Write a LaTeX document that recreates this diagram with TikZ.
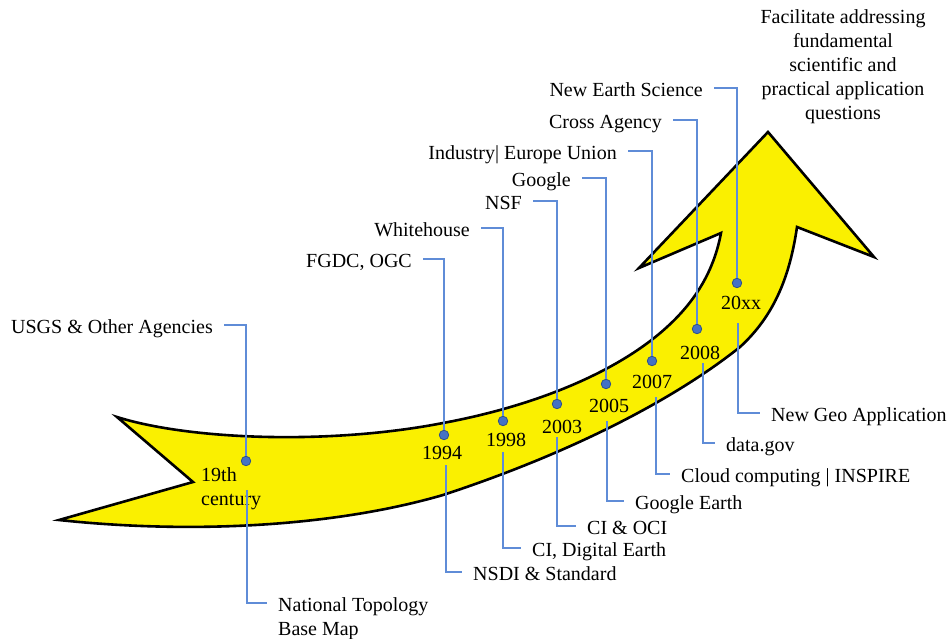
\documentclass[tikz,border=0pt]{standalone}
\usepackage{fontspec}
\setmainfont{Liberation Serif}
\definecolor{arrowyellow}{RGB}{250,240,0}
\definecolor{lineblue}{RGB}{95,140,215}
\definecolor{dotblue}{RGB}{68,114,196}
\definecolor{dotedge}{RGB}{45,80,140}
\begin{document}
\begin{tikzpicture}[x=1pt,y=-1pt,
  every node/.style={font=\fontsize{20}{24}\selectfont, text=black},
  dot/.style={circle, fill=dotblue, draw=dotedge, line width=0.8pt, minimum size=9.5pt, inner sep=0pt},
  conn/.style={draw=lineblue, line width=1.2pt},
  toplab/.style={anchor=mid east, inner xsep=11pt, inner ysep=0pt, yshift=-6pt},
  botlab/.style={anchor=mid west, inner xsep=11pt, inner ysep=0pt, yshift=-6pt},
  year/.style={anchor=base, inner sep=0pt},
  bigarrow/.style={fill=arrowyellow, draw=black, line width=2.6pt, line join=miter}
]
\useasboundingbox (0,0) rectangle (948,638);

% the yellow arrow
\path[bigarrow]
 (117,417) .. controls (190,440) and (330,445) .. (443,423)
 .. controls (540,405) and (620,370) .. (667,327)
 .. controls (700,297) and (715,265) .. (721,233)
 -- (639,268) -- (768,132) -- (874,257) -- (797,227)
 .. controls (790,275) and (775,315) .. (740,347)
 .. controls (680,395) and (580,450) .. (443,495)
 .. controls (340,525) and (200,535) .. (59,520)
 -- (193,482) -- cycle;

% year labels
\node[year, anchor=base west, align=left] (y19) at (201,505) {19th\\century};
\node[year] (y1994) at (442,459) {1994};
\node[year] (y1998) at (506,446) {1998};
\node[year] (y2003) at (562,433) {2003};
\node[year] (y2005) at (609,412) {2005};
\node[year] (y2007) at (652,388) {2007};
\node[year] (y2008) at (700,359) {2008};
\node[year] (y20xx) at (741,309) {20xx};

% top labels
\node[toplab] (usgs) at (224,325) {USGS \& Other Agencies};
\node[toplab] (fgdc) at (423,259) {FGDC, OGC};
\node[toplab] (white) at (481,228) {Whitehouse};
\node[toplab] (nsf) at (533,201) {NSF};
\node[toplab] (google) at (582,178) {Google};
\node[toplab] (industry) at (628,151) {Industry| Europe Union};
\node[toplab] (cross) at (673,120) {Cross Agency};
\node[toplab] (newearth) at (714,88) {New Earth Science};

% bottom labels
\node[botlab] (ntbm) at (267,603) {\vtop{\hbox{National Topology}\hbox{Base Map}}};
\node[botlab] (nsdi) at (462,572) {NSDI \& Standard};
\node[botlab] (cidig) at (521,548) {CI, Digital Earth};
\node[botlab] (cioci) at (576,526) {CI \& OCI};
\node[botlab] (gearth) at (624,501) {Google Earth};
\node[botlab] (cloud) at (670,474) {Cloud computing | INSPIRE};
\node[botlab] (datagov) at (715,443) {data.gov};
\node[botlab] (newgeo) at (760,413) {New Geo Application};

% goal text
\node[anchor=base, align=center, inner sep=0pt] (goal) at (843,119)
 {Facilitate addressing\\fundamental\\scientific and\\practical application\\questions};

% dots
\node[dot] (d19) at (246,461) {};
\node[dot] (d1994) at (444,435) {};
\node[dot] (d1998) at (503,421) {};
\node[dot] (d2003) at (557,404) {};
\node[dot] (d2005) at (606,384) {};
\node[dot] (d2007) at (652,361) {};
\node[dot] (d2008) at (697,329) {};
\node[dot] (d20xx) at (737,283) {};

% lower connector starts
\coordinate (s19) at (247,490);
\coordinate (s1994) at (446,465);
\coordinate (s1998) at (503,452);
\coordinate (s2003) at (557,437);
\coordinate (s2005) at (607,421);
\coordinate (s2007) at (656,397);
\coordinate (s2008) at (703,363);
\coordinate (s20xx) at (738,323);

% upper connectors
\draw[conn] ([yshift=6pt]usgs.mid east) -| (d19);
\draw[conn] ([yshift=6pt]fgdc.mid east) -| (d1994);
\draw[conn] ([yshift=6pt]white.mid east) -| (d1998);
\draw[conn] ([yshift=6pt]nsf.mid east) -| (d2003);
\draw[conn] ([yshift=6pt]google.mid east) -| (d2005);
\draw[conn] ([yshift=6pt]industry.mid east) -| (d2007);
\draw[conn] ([yshift=6pt]cross.mid east) -| (d2008);
\draw[conn] ([yshift=6pt]newearth.mid east) -| (d20xx);

% lower connectors
\draw[conn] (s19) |- ([yshift=6pt]ntbm.mid west);
\draw[conn] (s1994) |- ([yshift=6pt]nsdi.mid west);
\draw[conn] (s1998) |- ([yshift=6pt]cidig.mid west);
\draw[conn] (s2003) |- ([yshift=6pt]cioci.mid west);
\draw[conn] (s2005) |- ([yshift=6pt]gearth.mid west);
\draw[conn] (s2007) |- ([yshift=6pt]cloud.mid west);
\draw[conn] (s2008) |- ([yshift=6pt]datagov.mid west);
\draw[conn] (s20xx) |- ([yshift=6pt]newgeo.mid west);
\end{tikzpicture}
\end{document}
